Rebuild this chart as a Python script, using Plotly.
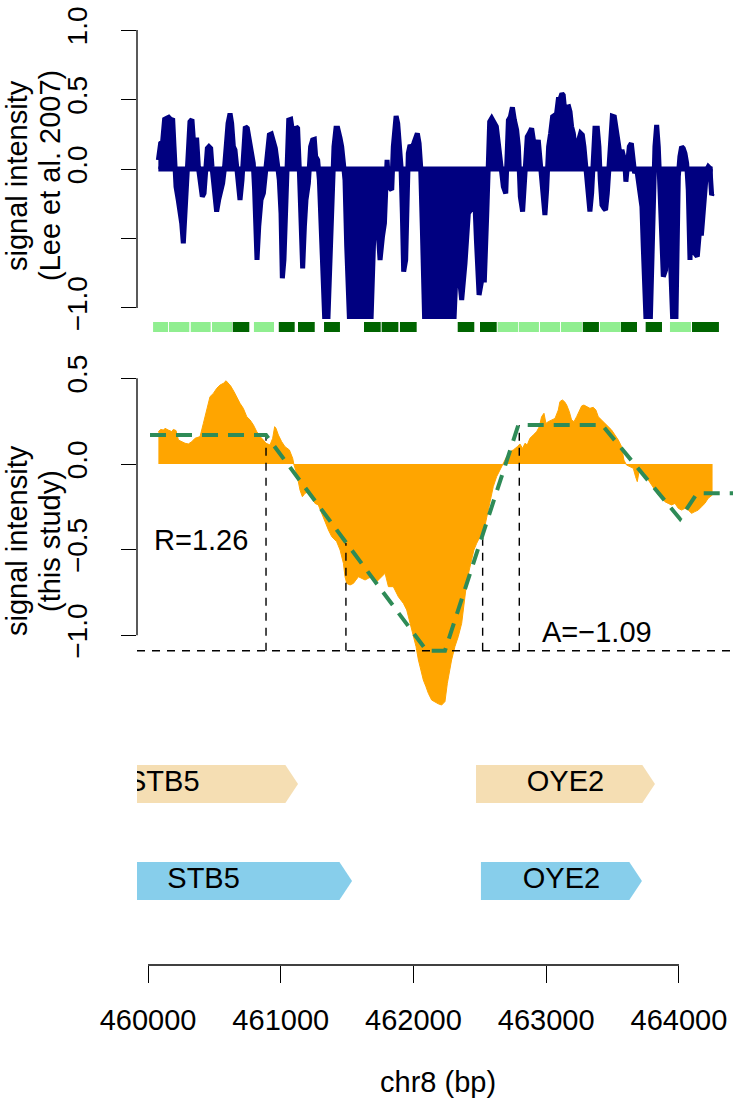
import plotly.graph_objects as go

W, H = 733, 1103
FONT = "Liberation Sans, Arial, Helvetica, sans-serif"
NAVY = "#000080"
ORANGE = "#FFA500"
SEAGREEN = "#2E8B57"
LIGHTGREEN = "#90EE90"
DARKGREEN = "#006400"
WHEAT = "#F5DEB3"
SKYBLUE = "#87CEEB"

# ---------------- data ----------------
X_MIN, X_MAX = 459917, 464407
x_ticks = [460000, 461000, 462000, 463000, 464000]

# Lee et al. 2007 signal (top panel)
lee_bp = [460078, 460095, 460110, 460125, 460141, 460156, 460171, 460186, 460196, 460203,
          460211, 460228, 460241, 460254, 460266, 460279, 460291, 460304, 460316, 460331,
          460341, 460354, 460367, 460379, 460392, 460409, 460422, 460434, 460447, 460459,
          460472, 460482, 460497, 460517, 460532, 460547, 460562, 460577, 460587, 460603,
          460618, 460630, 460643, 460655, 460668, 460680, 460693, 460708, 460718, 460733,
          460748, 460763, 460781, 460793, 460803, 460813, 460821, 460834, 460851, 460869,
          460884, 460899, 460914, 460929, 460944, 460959, 460974, 460989, 461002, 461012,
          461024, 461037, 461045, 461060, 461075, 461090, 461102, 461115, 461127, 461140,
          461152, 461165, 461178, 461190, 461208, 461225, 461240, 461253, 461263, 461278,
          461291, 461308, 461321, 461336, 461351, 461363, 461378, 461391, 461401, 461416,
          461429, 461447, 461459, 461472, 461484, 461497, 461509, 461522, 461660, 461680,
          461698, 461715, 461730, 461748, 461766, 461781, 461791, 461801, 461813, 461836,
          461848, 461856, 461869, 461881, 461894, 461906, 461916, 461926, 461941, 461951,
          461961, 461974, 461987, 462002, 462017, 462029, 462042, 462054, 462067, 462077,
          462087, 462300, 462318, 462338, 462363, 462388, 462413, 462439, 462459, 462474,
          462494, 462514, 462534, 462552, 462564, 462574, 462589, 462604, 462624, 462639,
          462652, 462665, 462677, 462695, 462705, 462715, 462730, 462745, 462760, 462777,
          462790, 462805, 462822, 462832, 462845, 462857, 462872, 462890, 462907, 462923,
          462940, 462953, 462965, 462978, 462990, 463003, 463018, 463033, 463048, 463066,
          463078, 463091, 463103, 463118, 463128, 463141, 463154, 463169, 463179, 463191,
          463204, 463216, 463229, 463241, 463259, 463272, 463284, 463297, 463309, 463319,
          463329, 463342, 463354, 463367, 463385, 463397, 463407, 463420, 463435, 463447,
          463460, 463472, 463485, 463498, 463513, 463525, 463535, 463548, 463560, 463570,
          463583, 463595, 463600, 463611, 463626, 463641, 463653, 463666, 463681, 463696,
          463711, 463721, 463731, 463744, 463756, 463781, 463794, 463806, 463819, 463832,
          463844, 463857, 463869, 463882, 463899, 463914, 463932, 463945, 463957, 463975,
          463985, 463995, 464007, 464020, 464032, 464045, 464058, 464070, 464083, 464095,
          464108, 464120, 464138, 464153, 464170, 464183, 464196, 464208, 464221, 464233,
          464246, 464253]
lee_val = [0.065, 0.185, 0.197, 0.357, 0.365, 0.372, 0.357, 0.352, 0.161, 0.0,
           -0.127, -0.223, -0.307, -0.391, -0.535, -0.319, -0.079, 0.161, 0.341, 0.357,
           0.221, 0.209, 0.209, 0.017, -0.079, -0.199, -0.175, 0.017, 0.149, 0.161,
           0.149, 0.017, -0.127, -0.307, -0.223, -0.175, -0.103, 0.017, 0.161, 0.329,
           0.400, 0.329, 0.161, 0.137, 0.017, -0.151, -0.223, -0.079, 0.161, 0.305,
           0.293, 0.221, 0.125, 0.041, -0.151, -0.439, -0.655, -0.415, -0.223, -0.175,
           -0.055, 0.113, 0.245, 0.252, 0.209, 0.149, 0.041, -0.079, -0.319, -0.787,
           -0.655, -0.319, 0.113, 0.352, 0.357, 0.257, 0.185, 0.305, 0.293, -0.007,
           -0.271, -0.715, -0.415, -0.223, -0.103, 0.161, 0.209, 0.213, 0.089, 0.065,
           -0.079, -0.439, -0.799, -1.2, -1.2, -0.847, -0.463, -0.151, 0.161, 0.293,
           0.293, 0.221, 0.161, 0.041, -0.079, -0.559, -0.919, -1.2, -1.2, -1.09,
           -0.559, -0.199, -0.391, -0.655, -0.487, -0.391, -0.151, 0.065, -0.127, -0.151,
           0.161, 0.281, 0.381, 0.329, 0.161, 0.017, -0.319, -0.739, -0.655, -0.199,
           0.113, 0.173, 0.149, 0.185, 0.245, 0.257, 0.185, 0.017, -0.439, -1.04,
           -1.2, -1.2, -0.799, -0.703, -0.943, -0.679, -0.319, -0.283, -0.151, -0.511,
           -0.907, -0.799, -0.799, -0.319, 0.017, 0.341, 0.365, 0.329, 0.305, 0.185,
           0.065, -0.031, -0.127, -0.175, 0.017, 0.352, 0.376, 0.444, 0.352, 0.281,
           0.161, -0.199, -0.307, -0.151, 0.065, 0.233, 0.257, 0.293, 0.185, 0.137,
           0.209, 0.089, -0.031, -0.199, -0.331, -0.151, 0.161, 0.257, 0.376, 0.388,
           0.400, 0.501, 0.501, 0.544, 0.532, 0.400, 0.444, 0.448, 0.412, 0.305,
           0.257, 0.161, 0.185, 0.197, 0.257, 0.245, 0.161, 0.017, -0.151, -0.283,
           -0.307, -0.175, 0.161, 0.293, 0.293, 0.161, -0.079, -0.259, -0.283, -0.295,
           -0.175, 0.041, 0.281, 0.381, 0.376, 0.305, 0.257, 0.185, 0.077, 0.137,
           0.089, -0.007, -0.091, 0.017, 0.161, 0.185, 0.065, -0.031, 0.005, -0.103,
           -0.175, -0.271, -0.559, -1.04, -1.2, -1.2, -0.703, -0.151, 0.161, 0.317,
           0.161, -0.151, -0.439, -0.775, -0.727, -0.415, -0.559, -0.895, -1.2, -1.2,
           -0.559, -0.055, 0.089, 0.161, 0.149, 0.113, 0.041, -0.151, -0.655, -0.175,
           -0.271, -0.607, -0.631, -0.463, -0.463, -0.319, -0.175, -0.007, 0.017, 0.005,
           -0.187, -0.175]

# nucleosome blocks under top panel
nuc_start = [460038, 460158, 460322, 460482, 460638, 460798, 460985, 461130, 461326, 461627,
             461760, 461898, 462333, 462501, 462634, 462795, 462953, 463111, 463275, 463405,
             463563, 463749, 463932, 464098]
nuc_end = [460151, 460311, 460472, 460633, 460763, 460949, 461105, 461256, 461446, 461753,
           461886, 462024, 462458, 462627, 462789, 462945, 463104, 463269, 463397, 463561,
           463684, 463872, 464090, 464301]
nuc_state = ["L", "L", "L", "L", "D", "L", "D", "D", "D", "D",
             "D", "D", "D", "D", "L", "L", "L", "L", "D", "L",
             "D", "D", "L", "D"]

# this study signal (middle panel)
study_bp = [460078, 460096, 460116, 460128, 460153, 460179, 460191, 460211, 460229, 460254,
            460279, 460304, 460329, 460354, 460392, 460417, 460442, 460467, 460492, 460518,
            460543, 460568, 460588, 460605, 460623, 460648, 460673, 460693, 460718, 460744,
            460769, 460794, 460819, 460844, 460869, 460889, 460919, 460939, 460954, 460964,
            460982, 461007, 461032, 461065, 461090, 461100, 461120, 461145, 461163, 461183,
            461208, 461233, 461258, 461283, 461309, 461334, 461359, 461384, 461421, 461447,
            461472, 461484, 461497, 461522, 461547, 461585, 461610, 461635, 461660, 461685,
            461710, 461735, 461760, 461786, 461811, 461848, 461886, 461924, 461949, 461974,
            461999, 462019, 462037, 462054, 462074, 462094, 462112, 462137, 462162, 462187,
            462212, 462237, 462255, 462270, 462287, 462312, 462337, 462363, 462383, 462400,
            462420, 462438, 462455, 462476, 462501, 462526, 462546, 462563, 462584, 462601,
            462626, 462656, 462676, 462702, 462727, 462752, 462782, 462802, 462822, 462840,
            462857, 462877, 462902, 462928, 462948, 462965, 462983, 462998, 463015, 463041,
            463066, 463091, 463103, 463121, 463138, 463154, 463174, 463191, 463209, 463229,
            463249, 463267, 463284, 463304, 463329, 463354, 463374, 463392, 463417, 463442,
            463467, 463493, 463518, 463543, 463568, 463585, 463605, 463631, 463656, 463673,
            463686, 463701, 463719, 463744, 463769, 463794, 463819, 463844, 463869, 463894,
            463919, 463944, 463970, 463995, 464020, 464045, 464070, 464095, 464120, 464145,
            464170, 464195, 464220, 464238, 464253]
study_val = [0.189, 0.202, 0.198, 0.208, 0.198, 0.189, 0.202, 0.195, 0.140, 0.130,
             0.121, 0.117, 0.130, 0.150, 0.160, 0.237, 0.315, 0.393, 0.412, 0.442,
             0.461, 0.471, 0.486, 0.471, 0.455, 0.422, 0.383, 0.354, 0.325, 0.276,
             0.257, 0.228, 0.189, 0.160, 0.140, 0.121, 0.111, 0.150, 0.218, 0.208,
             0.169, 0.130, 0.101, 0.082, 0.033, -0.006, -0.055, -0.152, -0.191, -0.171,
             -0.162, -0.200, -0.230, -0.239, -0.288, -0.346, -0.385, -0.424, -0.453, -0.502,
             -0.580, -0.658, -0.697, -0.706, -0.697, -0.658, -0.667, -0.677, -0.667, -0.658,
             -0.697, -0.677, -0.658, -0.638, -0.716, -0.716, -0.775, -0.814, -0.852, -0.930,
             -1.008, -1.066, -1.144, -1.203, -1.261, -1.300, -1.339, -1.378, -1.390, -1.400,
             -1.407, -1.387, -1.280, -1.203, -1.144, -1.066, -1.008, -0.930, -0.813, -0.697,
             -0.619, -0.560, -0.502, -0.463, -0.424, -0.405, -0.327, -0.269, -0.200, -0.132,
             -0.074, -0.025, 0.008, 0.043, 0.072, 0.082, 0.101, 0.117, 0.091, 0.121,
             0.111, 0.150, 0.169, 0.189, 0.218, 0.276, 0.296, 0.237, 0.247, 0.257,
             0.266, 0.315, 0.364, 0.374, 0.364, 0.344, 0.305, 0.257, 0.247, 0.276,
             0.315, 0.339, 0.344, 0.335, 0.325, 0.331, 0.315, 0.276, 0.257, 0.237,
             0.218, 0.198, 0.169, 0.140, 0.101, 0.023, -0.006, -0.016, -0.025, -0.074,
             -0.103, -0.035, -0.045, -0.055, -0.093, -0.123, -0.152, -0.181, -0.200, -0.220,
             -0.230, -0.239, -0.230, -0.259, -0.269, -0.259, -0.269, -0.288, -0.278, -0.269,
             -0.249, -0.230, -0.200, -0.191, -0.180]

# fitted model (green dashed)
model_bp = [460015, 460889, 462099, 462237, 462790, 463420, 464008, 464136, 464500]
model_val = [0.169, 0.169, -1.09, -1.09, 0.228, 0.228, -0.321, -0.171, -0.171]

# vertical guide lines
guide_bp = [460889, 461491, 462521, 462797]
guide_top = [0.169, -0.4605, -0.431, 0.228]
amp_level = -1.09
r_label = "R=1.26"
a_label = "A=\u22121.09"
r_pos = (460399, -0.444)
a_pos = (463380, -0.979)

# genes
gene_names = ["STB5", "OYE2"]
wheat_start = [459100, 462471]
wheat_end = [461130, 463819]
sky_start = [459300, 462508]
sky_end = [461537, 463721]

# ---------------- figure ----------------
ML = 137


def dom(top_px, bot_px):
    return [1 - bot_px / H, 1 - top_px / H]


def px_x(px):
    return (px - ML) / (W - ML)


fig = go.Figure()

# top panel
fig.add_trace(go.Scatter(x=lee_bp, y=lee_val, xaxis="x", yaxis="y", mode="lines",
                         fill="tozeroy", fillcolor=NAVY,
                         line=dict(color=NAVY, width=5), hoverinfo="skip"))
fig.add_trace(go.Scatter(x=[lee_bp[0], lee_bp[-1]], y=[0, 0], xaxis="x", yaxis="y",
                         mode="lines", line=dict(color=NAVY, width=5), hoverinfo="skip"))

# nucleosome blocks
fig.add_trace(go.Bar(x=[(s + e) / 2 for s, e in zip(nuc_start, nuc_end)],
                     y=[1] * len(nuc_start),
                     width=[e - s for s, e in zip(nuc_start, nuc_end)],
                     marker=dict(color=[LIGHTGREEN if c == "L" else DARKGREEN for c in nuc_state],
                                 line=dict(width=0)),
                     xaxis="x", yaxis="y2", hoverinfo="skip"))

# middle panel
fig.add_trace(go.Scatter(x=study_bp, y=study_val, xaxis="x", yaxis="y3", mode="lines",
                         fill="tozeroy", fillcolor=ORANGE,
                         line=dict(color=ORANGE, width=1), hoverinfo="skip"))
fig.add_trace(go.Scatter(x=[X_MIN, X_MAX], y=[amp_level, amp_level], xaxis="x", yaxis="y3",
                         mode="lines", line=dict(color="black", width=1.4, dash="8px,7px"),
                         hoverinfo="skip"))
gx, gy = [], []
for b, t in zip(guide_bp, guide_top):
    gx += [b, b, None]
    gy += [amp_level, t, None]
fig.add_trace(go.Scatter(x=gx, y=gy, xaxis="x", yaxis="y3", mode="lines",
                         line=dict(color="black", width=1.4, dash="8px,7px"), hoverinfo="skip"))
fig.add_trace(go.Scatter(x=model_bp, y=model_val, xaxis="x", yaxis="y3", mode="lines",
                         line=dict(color=SEAGREEN, width=4, dash="16px,10px"), hoverinfo="skip"))

# gene panel
HEAD = 95
HALF = 0.196
for starts, ends, track, col in [(wheat_start, wheat_end, 2, WHEAT), (sky_start, sky_end, 1, SKYBLUE)]:
    for s, e in zip(starts, ends):
        fig.add_trace(go.Scatter(
            x=[s, e - HEAD, e, e - HEAD, s, s],
            y=[track - HALF, track - HALF, track, track + HALF, track + HALF, track - HALF],
            xaxis="x", yaxis="y4", mode="lines", fill="toself", fillcolor=col,
            line=dict(width=0, color=col), hoverinfo="skip"))
    fig.add_trace(go.Scatter(x=[(s + e) / 2 for s, e in zip(starts, ends)], y=[track] * len(starts),
                             text=gene_names, mode="text", textposition="middle center",
                             textfont=dict(size=29, color="black", family=FONT),
                             xaxis="x", yaxis="y4", cliponaxis=True, hoverinfo="skip"))

tick_common = dict(ticks="outside", tickcolor="black", tickwidth=1.3, showline=False,
                   showgrid=False, zeroline=False, fixedrange=True, automargin=False)

fig.update_layout(
    width=W, height=H, margin=dict(l=ML, r=0, t=0, b=0, autoexpand=False),
    paper_bgcolor="white", plot_bgcolor="white", showlegend=False,
    font=dict(family=FONT, color="black"),
    xaxis=dict(domain=[0, 1], range=[X_MIN, X_MAX], anchor="y4",
               tickvals=x_ticks, ticktext=[str(v) for v in x_ticks],
               ticklen=17, tickfont=dict(size=29), ticklabelstandoff=12, **tick_common),
    yaxis=dict(domain=dom(19, 319), range=[-1.08, 1.08], anchor="x",
               tickvals=[-1, -0.5, 0, 0.5, 1], ticktext=["\u22121.0", "", "0.0", "0.5", "1.0"],
               tickangle=-90, ticklen=15, tickfont=dict(size=28), ticklabelstandoff=23,
               **tick_common),
    yaxis2=dict(domain=dom(322, 332), range=[0, 1], anchor="x", visible=False, fixedrange=True),
    yaxis3=dict(domain=dom(363, 713), range=[-1.4536, 0.5896], anchor="x",
                tickvals=[-1, -0.5, 0, 0.5], ticktext=["\u22121.0", "\u22120.5", "0.0", "0.5"],
                tickangle=-90, ticklen=15, tickfont=dict(size=28), ticklabelstandoff=23,
                **tick_common),
    yaxis4=dict(domain=dom(740, 965), range=[0.134, 2.4536], anchor="x", visible=False,
                fixedrange=True),
)

# axis lines spanning only the tick range (R style)
fig.add_shape(type="line", xref="x", yref="paper", x0=x_ticks[0], x1=x_ticks[-1],
              y0=1 - 965 / H, y1=1 - 965 / H, line=dict(color="black", width=1.3))
fig.add_shape(type="line", xref="paper", yref="y", x0=0, x1=0, y0=-1, y1=1,
              line=dict(color="black", width=1.3))
fig.add_shape(type="line", xref="paper", yref="y3", x0=0, x1=0, y0=-1, y1=0.5,
              line=dict(color="black", width=1.3))

# texts
fig.add_annotation(x=r_pos[0], y=r_pos[1], xref="x", yref="y3", text=r_label, showarrow=False,
                   font=dict(size=29))
fig.add_annotation(x=a_pos[0], y=a_pos[1], xref="x", yref="y3", text=a_label, showarrow=False,
                   font=dict(size=29))
ylabels = [("signal intensity", 17, 176), ("(Lee et al. 2007)", 50, 176),
           ("signal intensity", 17, 541), ("(this study)", 50, 541)]
for txt, px, py in ylabels:
    fig.add_annotation(x=px_x(px), y=1 - py / H, xref="paper", yref="paper",
                       text=txt, textangle=-90, showarrow=False, font=dict(size=29),
                       xanchor="center", yanchor="middle")
fig.add_annotation(x=px_x(437.5), y=1 - 1082 / H, xref="paper", yref="paper",
                   text="chr8 (bp)", showarrow=False, font=dict(size=29),
                   xanchor="center", yanchor="middle")

fig.write_html("out.html", config={"displayModeBar": False},
               post_script="document.body.style.margin='0';document.body.style.padding='0';")
